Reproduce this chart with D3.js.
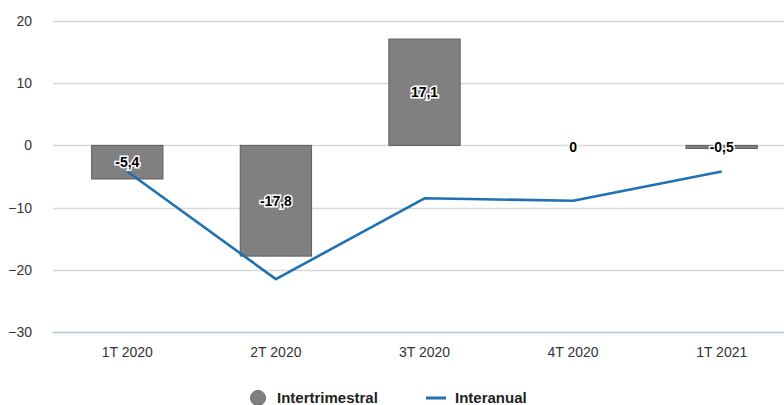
<!DOCTYPE html>
<html>
<head>
<meta charset="utf-8">
<script src="https://cdn.jsdelivr.net/npm/d3@7"></script>
<style>
  html, body { margin: 0; padding: 0; background: #fff; }
  svg { display: block; font-family: "Liberation Sans", Arial, sans-serif; }
</style>
</head>
<body>
<svg id="chart" width="784" height="405"></svg>
<script>
// Quarterly GDP change (%)
const categories = ["1T 2020", "2T 2020", "3T 2020", "4T 2020", "1T 2021"];
const intertrimestral = [-5.4, -17.8, 17.1, 0, -0.5];
const interanual = [-4.2, -21.5, -8.5, -8.9, -4.2];
const yTicks = [20, 10, 0, -10, -20, -30];
const seriesNames = ["Intertrimestral", "Interanual"];

const W = 784, H = 405;
const plotLeft = 53, plotRight = 796, plotTop = 21, plotBottom = 332;

const svg = d3.select("#chart");
const fmt = v => (v === 0 ? "0" : String(v).replace(".", ","));

const x = d3.scaleBand().domain(categories).range([plotLeft, plotRight]).paddingInner(0).paddingOuter(0);
const y = d3.scaleLinear().domain([-30, 20]).range([plotBottom, plotTop]);

// Horizontal gridlines
const grid = svg.append("g");
grid.selectAll("line").data(yTicks).join("line")
  .attr("x1", plotLeft).attr("x2", W)
  .attr("y1", d => Math.round(y(d)) + 0.5).attr("y2", d => Math.round(y(d)) + 0.5)
  .attr("stroke", d => d === -30 ? "#b9c4da" : "#d9d9d9")
  .attr("stroke-width", 1.3);

// Y axis labels
const yAxis = svg.append("g").attr("transform", `translate(${plotLeft - 21},0)`)
  .call(d3.axisLeft(y).tickValues(yTicks).tickSize(0).tickPadding(0));
yAxis.select(".domain").remove();
yAxis.selectAll("text")
  .attr("font-family", "'Liberation Sans', Arial, sans-serif")
  .attr("font-size", 14).attr("fill", "#333");

// X axis labels
const xAxis = svg.append("g").attr("transform", `translate(0,${plotBottom + 15})`)
  .call(d3.axisBottom(x).tickSize(0).tickPadding(0));
xAxis.select(".domain").remove();
xAxis.selectAll("text")
  .attr("font-family", "'Liberation Sans', Arial, sans-serif")
  .attr("font-size", 14).attr("fill", "#333");

// Bars (quarter-on-quarter)
const barW = x.bandwidth() * 0.48;
const bars = categories.map((c, i) => ({ c, v: intertrimestral[i] }));
svg.append("g").selectAll("rect").data(bars.filter(d => d.v !== 0)).join("rect")
  .attr("x", d => x(d.c) + (x.bandwidth() - barW) / 2)
  .attr("width", barW)
  .attr("y", d => y(Math.max(0, d.v)))
  .attr("height", d => Math.abs(y(d.v) - y(0)))
  .attr("fill", "#808080")
  .attr("stroke", "#5e5e5e")
  .attr("stroke-width", 1);

// Line (year-on-year)
const line = d3.line()
  .x((d, i) => x(categories[i]) + x.bandwidth() / 2)
  .y(d => y(d));
svg.append("path").datum(interanual)
  .attr("d", line)
  .attr("fill", "none")
  .attr("stroke", "#1f72b2")
  .attr("stroke-width", 2.6)
  .attr("stroke-linejoin", "round");

// Bar value labels
const labels = svg.append("g")
  .attr("font-family", "'Liberation Sans', Arial, sans-serif")
  .attr("font-size", 14).attr("font-weight", "bold")
  .attr("text-anchor", "middle");
labels.selectAll("text").data(bars).join("text")
  .attr("x", d => x(d.c) + x.bandwidth() / 2)
  .attr("y", d => Math.abs(y(d.v) - y(0)) > 10 ? (y(d.v) + y(0)) / 2 : y(0) + 2)
  .attr("dy", "0.35em")
  .attr("fill", "#000")
  .attr("stroke", "#fff")
  .attr("stroke-width", 3)
  .attr("paint-order", "stroke")
  .text(d => fmt(d.v));

// Legend
const lg = svg.append("g")
  .attr("font-family", "'Liberation Sans', Arial, sans-serif")
  .attr("font-size", 15).attr("font-weight", "bold").attr("fill", "#222");
lg.append("circle").attr("cx", 258).attr("cy", 398).attr("r", 7.5)
  .attr("fill", "#808080").attr("stroke", "#6a6a6a");
lg.append("text").attr("x", 277).attr("y", 398).attr("dy", "0.35em").text(seriesNames[0]);
lg.append("line").attr("x1", 426).attr("x2", 446).attr("y1", 398).attr("y2", 398)
  .attr("stroke", "#1f72b2").attr("stroke-width", 3);
lg.append("text").attr("x", 455).attr("y", 398).attr("dy", "0.35em").text(seriesNames[1]);
</script>
</body>
</html>
